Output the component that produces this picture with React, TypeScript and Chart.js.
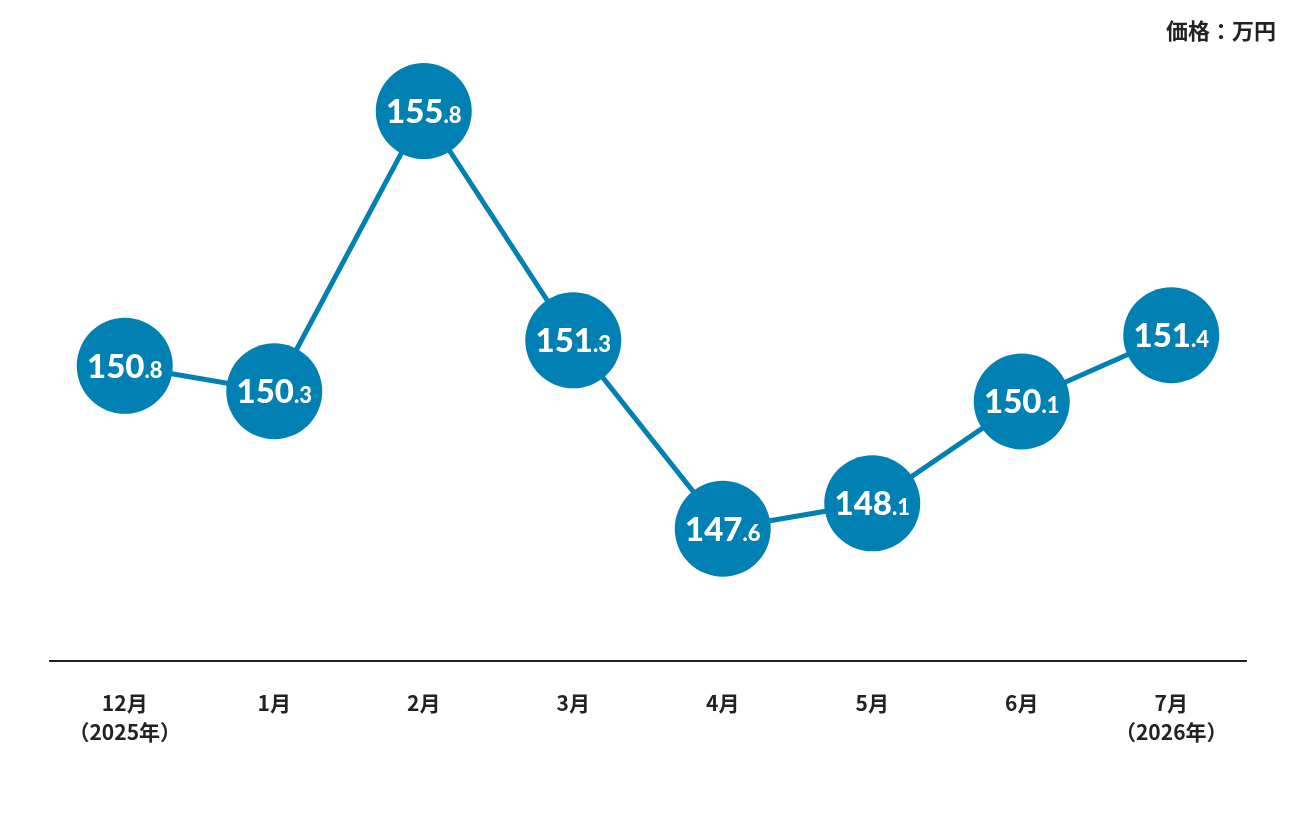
import { useEffect, useRef } from "react";
import { Chart, registerables, type ChartConfiguration, type Plugin } from "chart.js";

Chart.register(...registerables);

const MONTHS: (string | string[])[] = [
  ["12月", "（2025年）"],
  "1月",
  "2月",
  "3月",
  "4月",
  "5月",
  "6月",
  ["7月", "（2026年）"],
];
const PRICES = [150.8, 150.3, 155.8, 151.3, 147.6, 148.1, 150.1, 151.4];
const UNIT_LABEL = "価格：万円";

const BLUE = "#0080b3";
const INK = "#222222";
const JP_FONT = "'Noto Sans CJK JP', 'Noto Sans', sans-serif";

// white value label in each bubble: integer part big, decimal part smaller
const bubbleLabels: Plugin<"line"> = {
  id: "bubbleLabels",
  afterDatasetsDraw(chart) {
    const { ctx } = chart;
    const meta = chart.getDatasetMeta(0);
    ctx.save();
    ctx.fillStyle = "#ffffff";
    ctx.textBaseline = "alphabetic";
    ctx.textAlign = "left";
    meta.data.forEach((pt, i) => {
      const [whole, dec] = PRICES[i].toFixed(1).split(".");
      const bigFont = "900 33px Lato, 'Noto Sans', sans-serif";
      const smallFont = "900 22px Lato, 'Noto Sans', sans-serif";
      ctx.font = bigFont;
      const w1 = ctx.measureText(whole).width;
      ctx.font = smallFont;
      const w2 = ctx.measureText("." + dec).width;
      const x0 = pt.x - (w1 + w2) / 2;
      const base = pt.y + 12;
      ctx.font = bigFont;
      ctx.fillText(whole, x0, base);
      ctx.font = smallFont;
      ctx.fillText("." + dec, x0 + w1, base);
    });
    ctx.restore();
  },
};

const unitLabel: Plugin<"line"> = {
  id: "unitLabel",
  afterDraw(chart) {
    const { ctx } = chart;
    ctx.save();
    ctx.fillStyle = INK;
    ctx.font = `bold 22px ${JP_FONT}`;
    ctx.textAlign = "right";
    ctx.textBaseline = "middle";
    ctx.fillText(UNIT_LABEL, 1276, 31);
    ctx.restore();
  },
};

export default function App() {
  const canvasRef = useRef<HTMLCanvasElement>(null);
  const chartRef = useRef<Chart | null>(null);

  useEffect(() => {
    const ctx = canvasRef.current?.getContext("2d");
    if (!ctx) return;
    chartRef.current?.destroy();

    const config: ChartConfiguration<"line"> = {
      type: "line",
      data: {
        labels: MONTHS,
        datasets: [
          {
            data: PRICES,
            borderColor: BLUE,
            borderWidth: 5,
            pointRadius: 48,
            pointHoverRadius: 48,
            pointBackgroundColor: BLUE,
            pointBorderWidth: 0,
            tension: 0,
          },
        ],
      },
      options: {
        responsive: false,
        animation: false,
        layout: { padding: { left: 50, right: 50, top: 50, bottom: 50 } },
        plugins: {
          legend: { display: false },
          tooltip: { enabled: false },
          title: { display: false },
        },
        scales: {
          x: {
            offset: true,
            grid: { display: false },
            border: { color: INK, width: 2 },
            ticks: {
              color: INK,
              padding: 19,
              maxRotation: 0,
              autoSkip: false,
              font: { family: JP_FONT, size: 21, weight: "bold", lineHeight: 1.4 },
            },
          },
          y: {
            display: false,
            min: 145,
            max: 157,
          },
        },
      },
      plugins: [bubbleLabels, unitLabel],
    };

    chartRef.current = new Chart(ctx, config);
    return () => chartRef.current?.destroy();
  }, []);

  return (
    <div style={{ position: "fixed", left: 0, top: 0, width: 1296, height: 816, background: "#fff" }}>
      <canvas ref={canvasRef} width={1296} height={816} style={{ width: 1296, height: 816 }} />
    </div>
  );
}
